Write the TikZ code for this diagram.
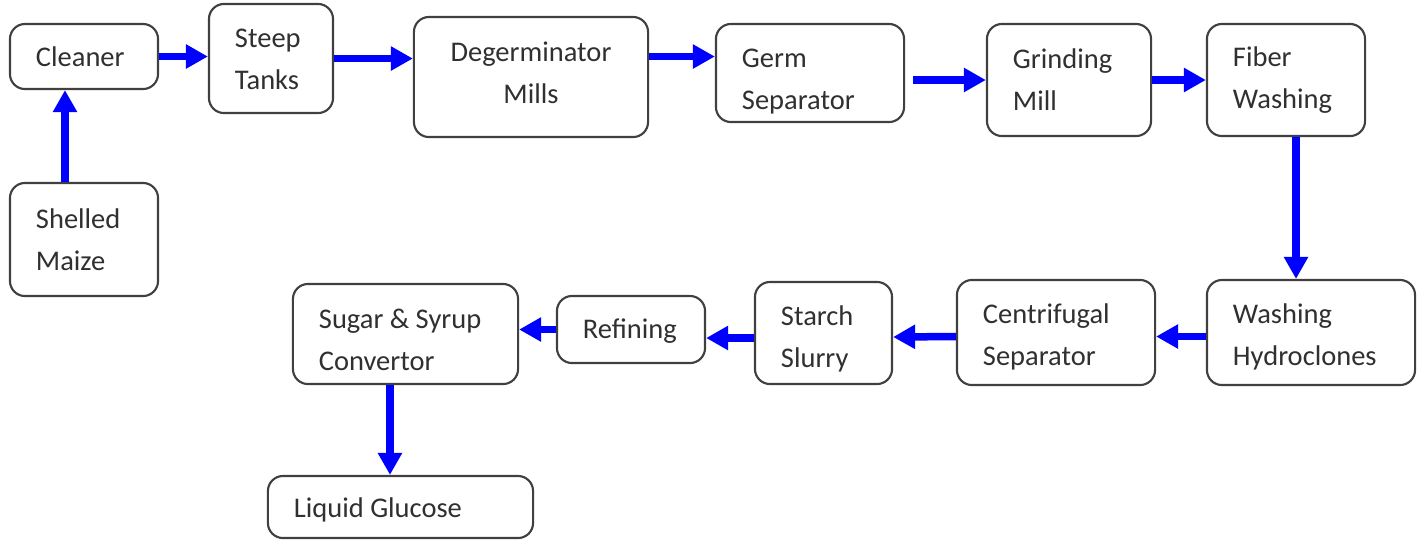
\documentclass[tikz,border=0pt]{standalone}
\usepackage{fontspec}
\setmainfont{Carlito}
\usepackage{tikz}
\usetikzlibrary{positioning,arrows.meta,calc}
\definecolor{flowblue}{HTML}{0000FF}
\definecolor{edge}{HTML}{404040}
\definecolor{ink}{HTML}{303030}
\tikzset{
  stagebox/.style = {draw=edge, fill=white, rounded corners=0.15cm, line width=0.6pt,
                     inner xsep=0.26cm, inner ysep=0pt, align=flush left, text=ink,
                     font=\fontsize{8.1}{11.9}\selectfont},
  flow/.style     = {-{Triangle[length=0.22cm, width=0.23cm]}, draw=flowblue,
                     line width=0.075cm},
}
% optional #1: how far the text sits below the middle of its box
\newcommand{\stage}[7][0]{\node[stagebox, text width=#5cm, minimum height=#6cm] (#2) at (#3,#4)
  {\rule{0pt}{\dimexpr\fontcharht\font`h+#1cm*2\relax}#7};}

\begin{document}
\begin{tikzpicture}[x=0.01cm,y=-0.01cm]
\useasboundingbox (0,0) rectangle (1418,541);

% ------------------------------------------------------------------ top row
\stage{cleaner}{84}{56.5}        {0.96}{0.65}{Cleaner}
\stage{steep}{271}{58.5}         {0.72}{1.09}{Steep\\Tanks}
\node[stagebox, text width=1.82cm, minimum height=1.20cm, align=center] (degerm) at (531,77)
  {Degerminator\\Mills\rule[-0.08cm]{0pt}{0.08cm}};
\stage[0.08]{germ}{810}{73}      {1.36}{0.98}{Germ\\Separator}
\stage{grind}{1069}{80}          {1.12}{1.12}{Grinding\\Mill}
\stage{fiber}{1286}{80}          {1.06}{1.12}{Fiber\\Washing}
\stage{shelled}{84}{239.5}       {0.96}{1.13}{Shelled\\Maize}

% ------------------------------------------------------------------ bottom row
\stage[0.04]{wash}{1311}{332.5}  {1.56}{1.05}{Washing\\Hydroclones}
\stage[0.04]{centri}{1056}{332.5}{1.46}{1.05}{Centrifugal\\Separator}
\stage[0.06]{starch}{823.5}{333} {0.85}{1.02}{Starch\\Slurry}
\stage[0.02]{refin}{631}{329.5}  {0.96}{0.67}{Refining}
\stage[0.06]{sugar}{405.5}{334}  {1.73}{1.00}{Sugar \& Syrup\\Convertor}
\stage[0.03]{liquid}{400.5}{507} {2.13}{0.62}{Liquid Glucose}

% ------------------------------------------------------------------ arrows
\draw[flow] ([xshift=-0.19cm]shelled.north) -- ([xshift=-0.19cm]cleaner.south);
\draw[flow] (cleaner.east) -- (cleaner.east -| steep.west);
\draw[flow] (steep.east) -- (steep.east -| degerm.west);
\draw[flow] (degerm.east |- cleaner) -- (germ.west |- cleaner);
\draw[flow] ([xshift=0.08cm]germ.east |- grind) -- (grind.west);
\draw[flow] (grind.east) -- (fiber.west);
\draw[flow] ([xshift=0.1cm]fiber.south) -- ([xshift=0.1cm]fiber.south |- wash.north);
\foreach \a/\b in {wash/centri, centri/starch}{\draw[flow] ([yshift=-0.04cm]\a.west) -- ([yshift=-0.04cm]\b.east);}
\draw[flow] ([yshift=-0.05cm]starch.west) -- ([yshift=-0.05cm]starch.west -| refin.east);
\draw[flow] (refin.west) -- (refin.west -| sugar.east);
\draw[flow] ([xshift=-0.155cm]sugar.south) -- ([xshift=-0.155cm]sugar.south |- liquid.north);

\end{tikzpicture}
\end{document}
